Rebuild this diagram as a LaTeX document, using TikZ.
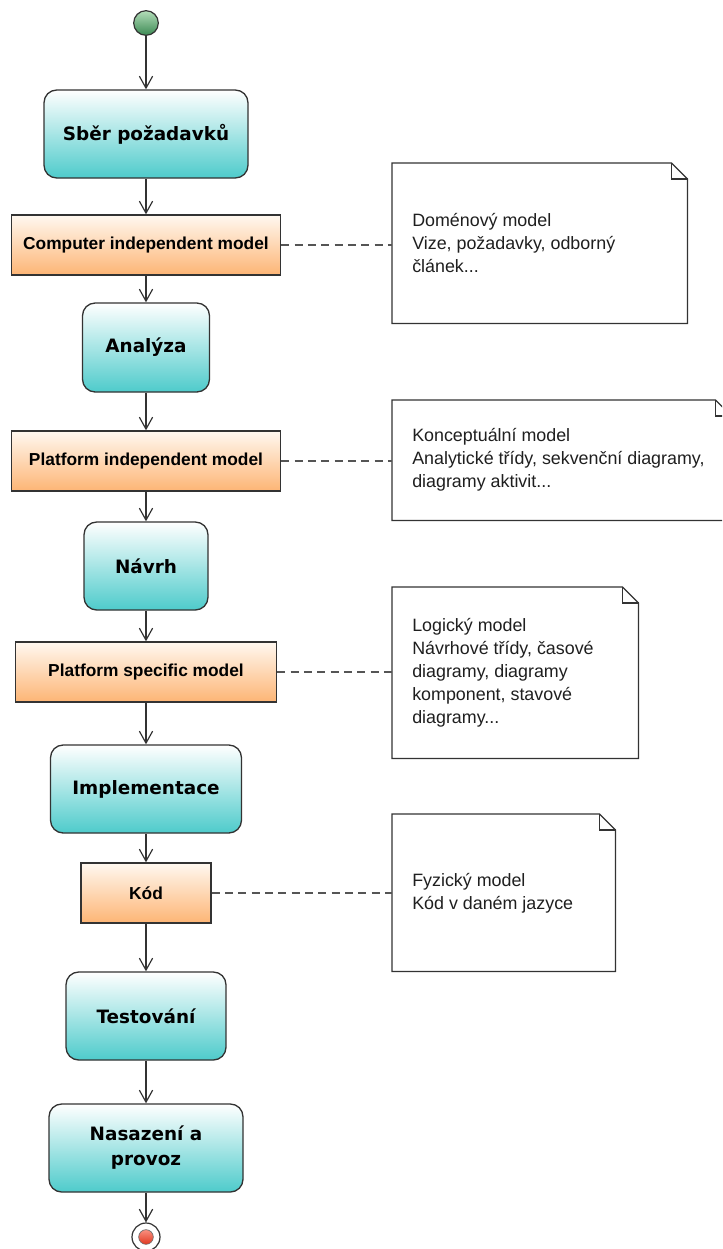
\documentclass[tikz,border=0pt]{standalone}
\usepackage{fontspec}
\setmainfont{Liberation Sans}
\newfontfamily\actfont{DejaVu Sans}
\usetikzlibrary{arrows.meta}

\definecolor{edge}{HTML}{333333}
\definecolor{dashgray}{HTML}{555555}
\definecolor{tealfill}{HTML}{4ECBCB}
\definecolor{orangetop}{HTML}{FFF8F0}
\definecolor{orangefill}{HTML}{FDB575}
\definecolor{starttop}{HTML}{B3DDB8}
\definecolor{startbottom}{HTML}{3C8A55}
\definecolor{endtop}{HTML}{F99080}
\definecolor{endbottom}{HTML}{E03820}

\tikzset{
  px size/.style 2 args={minimum width=#1*0.75pt, minimum height=#2*0.75pt},
  activity/.style={draw=edge, line width=1pt, rounded corners=9.5pt,
    top color=white, bottom color=tealfill, inner sep=0pt, align=center,
    font=\actfont\bfseries\fontsize{13.8}{18.75}\selectfont},
  artifact/.style={draw=edge, line width=1pt, top color=orangetop,
    bottom color=orangefill, inner sep=0pt, align=center,
    font=\bfseries\fontsize{13}{16}\selectfont},
  flow/.style={draw=edge, line width=0.9pt, -{Straight Barb[length=9pt,width=10pt]}},
  link/.style={draw=dashgray, line width=1pt, dash pattern=on 6pt off 4pt},
  notebox/.style={inner sep=0pt},
  noteline/.style={draw=edge, line width=1pt, line join=miter},
  notetext/.style={inner sep=0pt, align=left, font=\fontsize{13.4}{17.25}\selectfont, text=black!88},
  initial/.style={circle, draw=edge, line width=0.9pt, minimum size=18.5pt, inner sep=0pt,
    top color=starttop, bottom color=startbottom},
  finalring/.style={circle, draw=edge, line width=0.9pt, minimum size=21pt, inner sep=0pt, fill=white},
  finaldot/.style={circle, draw=edge!70, line width=0.5pt, minimum size=11pt, inner sep=0pt,
    top color=endtop, bottom color=endbottom},
}

% outline of a UML note with a folded top-right corner
\newcommand\foldednote[1]{%
  \draw[noteline, fill=white] (#1.north west) -- ([xshift=-12pt]#1.north east)
    -- ([yshift=-12pt]#1.north east) -- (#1.south east) -- (#1.south west) -- cycle;
  \draw[noteline] ([xshift=-12pt]#1.north east) -- ([xshift=-12pt,yshift=-12pt]#1.north east)
    -- ([yshift=-12pt]#1.north east);
}

\begin{document}
\begin{tikzpicture}[x=0.75pt, y=-0.75pt]
  \useasboundingbox (0,0) rectangle (722,1249);
  \clip (0,0) rectangle (722,1249);

  % main flow
  \node[initial] (start) at (146,23) {};
  \node[activity, px size={204}{88}] (sber) at (146,134) {Sběr požadavků};
  \node[artifact, px size={269}{60}] (cim) at (146,245) {Computer independent model};
  \node[activity, px size={127}{89}] (analyza) at (146,347.5) {Analýza};
  \node[artifact, px size={269}{60}] (pim) at (146,461) {Platform independent model};
  \node[activity, px size={124}{88}] (navrh) at (146,566) {Návrh};
  \node[artifact, px size={261}{60}] (psm) at (146,672) {Platform specific model};
  \node[activity, px size={191}{88}] (impl) at (146,789) {Implementace};
  \node[artifact, px size={130}{60}] (kod) at (146,893) {Kód};
  \node[activity, px size={160}{88}] (test) at (146,1016) {Testování};
  \node[activity, px size={194}{88}] (nasaz) at (146,1148) {Nasazení a\\provoz};
  \node[finalring] (end) at (146,1237) {};
  \node[finaldot] (enddot) at (end.center) {};

  \draw[flow] (start) -- (sber);
  \draw[flow] (sber) -- (cim);
  \draw[flow] (cim) -- (analyza);
  \draw[flow] (analyza) -- (pim);
  \draw[flow] (pim) -- (navrh);
  \draw[flow] (navrh) -- (psm);
  \draw[flow] (psm) -- (impl);
  \draw[flow] (impl) -- (kod);
  \draw[flow] (kod) -- (test);
  \draw[flow] (test) -- (nasaz);
  \draw[flow] (nasaz) -- (end);

  % notes
  \node[notebox, px size={295}{160}, anchor=north west] (n1) at (392,163) {};
  \node[notebox, px size={339}{120}, anchor=north west] (n2) at (392,400) {};
  \node[notebox, px size={246}{171}, anchor=north west] (n3) at (392,587) {};
  \node[notebox, px size={223}{157}, anchor=north west] (n4) at (392,814) {};
  \foldednote{n1}
  \foldednote{n2}
  \foldednote{n3}
  \foldednote{n4}

  \node[notetext, anchor=west] (n1t) at ([xshift=15pt]n1.west)
    {Doménový model\\Vize, požadavky, odborný\\článek...};
  \node[notetext, anchor=west] (n2t) at ([xshift=15pt]n2.west)
    {Konceptuální model\\Analytické třídy, sekvenční diagramy,\\diagramy aktivit...};
  \node[notetext, anchor=west] (n3t) at ([xshift=15pt]n3.west)
    {Logický model\\Návrhové třídy, časové\\diagramy, diagramy\\komponent, stavové\\diagramy...};
  \node[notetext, anchor=west] (n4t) at ([xshift=15pt]n4.west)
    {Fyzický model\\Kód v daném jazyce};

  % note attachments
  \draw[link] (cim.east) -- (cim.east -| n1.west);
  \draw[link] (pim.east) -- (pim.east -| n2.west);
  \draw[link] (psm.east) -- (psm.east -| n3.west);
  \draw[link] (kod.east) -- (kod.east -| n4.west);
\end{tikzpicture}
\end{document}
